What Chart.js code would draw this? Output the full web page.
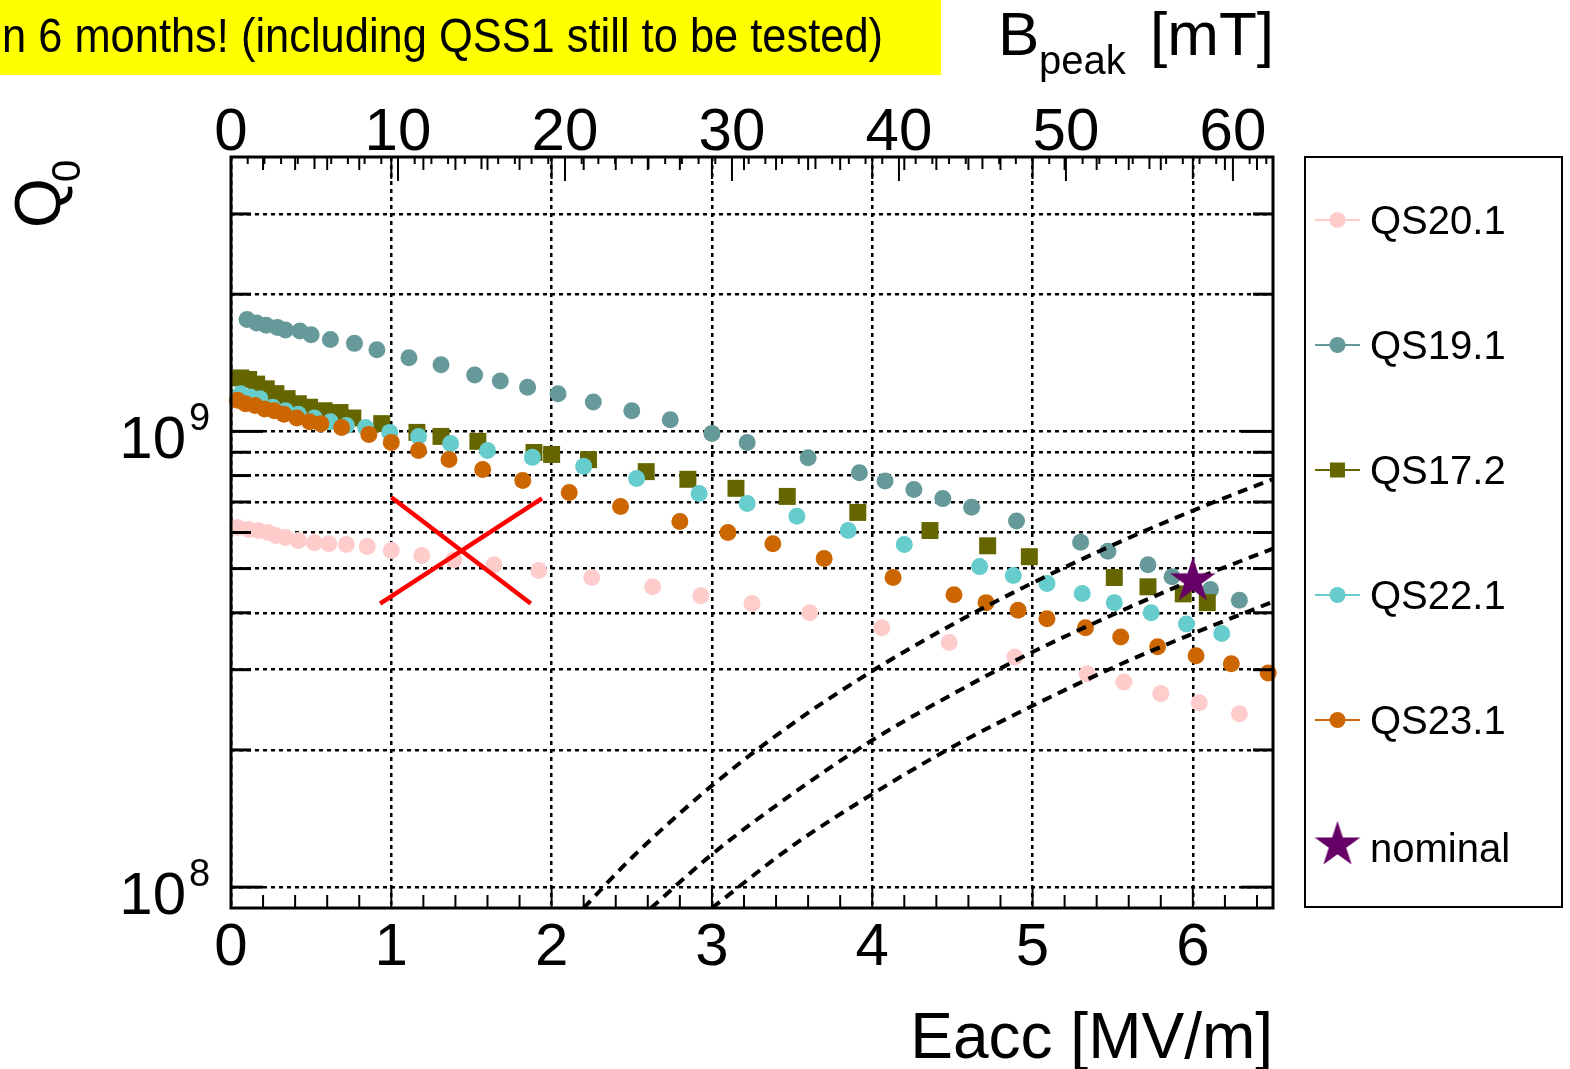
<!DOCTYPE html>
<html><head><meta charset="utf-8">
<script src="https://cdn.jsdelivr.net/npm/chart.js@4/dist/chart.umd.min.js"></script>
<style>html,body{margin:0;padding:0;background:#fff;overflow:hidden}</style>
</head><body>
<canvas id="c" width="1570" height="1069"></canvas>
<script>
// ---------------- data ----------------
const seriesNames = ['QS20.1','QS19.1','QS17.2','QS22.1','QS23.1'];
const seriesColors = ['#FFCCCC','#669999','#666600','#66CCCC','#CC6600'];

const qs20_1_E = [0.04,0.11,0.17,0.23,0.28,0.34,0.42,0.52,0.61,0.72,0.85,1.00,1.19,1.39,1.64,1.92,2.25,2.63,2.93,3.25,3.61,4.06,4.48,4.89,5.34,5.57,5.80,6.04,6.29];
const qs20_1_Q = [6.15e8,6.09e8,6.06e8,6.00e8,5.91e8,5.85e8,5.76e8,5.70e8,5.67e8,5.65e8,5.59e8,5.48e8,5.34e8,5.23e8,5.10e8,4.95e8,4.78e8,4.56e8,4.36e8,4.19e8,4.00e8,3.71e8,3.44e8,3.20e8,2.94e8,2.82e8,2.66e8,2.54e8,2.40e8];

const qs19_1_E = [0.10,0.16,0.22,0.29,0.34,0.43,0.50,0.62,0.77,0.91,1.11,1.31,1.52,1.68,1.85,2.04,2.26,2.50,2.74,3.00,3.22,3.60,3.92,4.08,4.26,4.44,4.62,4.90,5.30,5.47,5.72,5.87,6.11,6.29];
const qs19_1_Q = [1.76e9,1.73e9,1.71e9,1.69e9,1.67e9,1.66e9,1.63e9,1.59e9,1.56e9,1.51e9,1.45e9,1.40e9,1.33e9,1.29e9,1.25e9,1.21e9,1.16e9,1.11e9,1.06e9,9.9e8,9.45e8,8.75e8,8.11e8,7.78e8,7.46e8,7.12e8,6.82e8,6.36e8,5.71e8,5.46e8,5.10e8,4.80e8,4.50e8,4.26e8];

const qs17_2_E = [0.06,0.11,0.16,0.22,0.28,0.35,0.42,0.49,0.58,0.68,0.76,0.94,1.16,1.31,1.54,1.89,2.00,2.23,2.59,2.85,3.15,3.47,3.91,4.36,4.72,4.98,5.51,5.72,5.94,6.09];
const qs17_2_Q = [1.31e9,1.30e9,1.27e9,1.24e9,1.21e9,1.18e9,1.15e9,1.13e9,1.11e9,1.10e9,1.07e9,1.04e9,9.95e8,9.75e8,9.51e8,8.99e8,8.90e8,8.67e8,8.16e8,7.85e8,7.50e8,7.20e8,6.64e8,6.06e8,5.61e8,5.31e8,4.78e8,4.56e8,4.40e8,4.21e8];

const qs22_1_E = [0.06,0.12,0.18,0.26,0.34,0.42,0.52,0.62,0.72,0.84,0.99,1.17,1.37,1.60,1.88,2.20,2.53,2.92,3.22,3.53,3.85,4.20,4.67,4.88,5.09,5.31,5.51,5.74,5.96,6.18];
const qs22_1_Q = [1.21e9,1.19e9,1.18e9,1.13e9,1.11e9,1.09e9,1.07e9,1.05e9,1.03e9,1.02e9,9.95e8,9.75e8,9.41e8,9.08e8,8.77e8,8.38e8,7.88e8,7.31e8,6.95e8,6.51e8,6.06e8,5.65e8,5.05e8,4.83e8,4.64e8,4.41e8,4.21e8,4.00e8,3.78e8,3.60e8];

const qs23_1_E = [0.04,0.09,0.15,0.21,0.27,0.33,0.41,0.49,0.56,0.69,0.86,1.00,1.17,1.36,1.57,1.82,2.11,2.43,2.80,3.10,3.38,3.70,4.13,4.51,4.71,4.91,5.09,5.33,5.55,5.78,6.02,6.24,6.47];
const qs23_1_Q = [1.17e9,1.15e9,1.14e9,1.12e9,1.11e9,1.09e9,1.07e9,1.05e9,1.04e9,1.02e9,9.85e8,9.46e8,9.08e8,8.68e8,8.25e8,7.80e8,7.34e8,6.84e8,6.34e8,6.00e8,5.67e8,5.26e8,4.78e8,4.38e8,4.21e8,4.05e8,3.88e8,3.71e8,3.54e8,3.37e8,3.22e8,3.09e8,2.95e8];

const nominal_E = [6.0];
const nominal_Q = [4.70e8];

// dashed constant-power curves
const curve1_E = [2.2,2.5,3.0,3.5,4.0,4.5,5.0,5.5,6.0,6.5];
const curve1_Q = [9.0e7,1.16e8,1.67e8,2.28e8,2.98e8,3.77e8,4.65e8,5.63e8,6.70e8,7.86e8];
const curve2_E = [2.62,3.0,3.5,4.0,4.5,5.0,5.5,6.0,6.5];
const curve2_Q = [9.0e7,1.18e8,1.60e8,2.10e8,2.65e8,3.28e8,3.96e8,4.72e8,5.53e8];
const curve3_E = [3.0,3.5,4.0,4.5,5.0,5.5,6.0,6.5];
const curve3_Q = [9.0e7,1.23e8,1.60e8,2.03e8,2.50e8,3.03e8,3.60e8,4.23e8];

// red cross annotation
const crossA_E = [1.00,1.87];
const crossA_Q = [7.17e8,4.19e8];
const crossB_E = [0.93,1.94];
const crossB_Q = [4.19e8,7.13e8];

// axes
const eaccTicks = [0,1,2,3,4,5,6];
const bpeakTicks = [0,10,20,30,40,50,60];
const qGridValues = [1e8,2e8,3e8,4e8,5e8,6e8,7e8,8e8,9e8,1e9,2e9,3e9];
const qLabelValues = [1e8,1e9];
const eaccMin = 0, eaccMax = 6.5;
const bpeakMax = 62.4;
const qMin = 9e7, qMax = 4e9;

const bannerText = 'n 6 months! (including QSS1 still to be tested)';
const xTitle = 'Eacc [MV/m]';

// ---------------- helpers ----------------
const pts = (E,Q) => E.map((e,i)=>({x:e,y:Q[i]}));
const FONT = '"Liberation Sans", Arial, sans-serif';

function makeStar(R, color){
  const s = Math.ceil(R*2+4);
  const c = document.createElement('canvas'); c.width = s; c.height = s;
  const g = c.getContext('2d'); g.fillStyle = color;
  const cx = s/2, cy = s/2, r = R*0.382;
  g.beginPath();
  for (let k=0;k<10;k++){
    const rr = k%2===0 ? R : r;
    const a = -Math.PI/2 + k*Math.PI/5;
    const px = cx + rr*Math.cos(a), py = cy + rr*Math.sin(a);
    k===0 ? g.moveTo(px,py) : g.lineTo(px,py);
  }
  g.closePath(); g.fill();
  return c;
}
const starImg = makeStar(24,'#660066');

const pointDS = (label, E, Q, color, style, radius, order) => ({
  label, data: pts(E,Q), backgroundColor: color, borderColor: color,
  pointStyle: style, pointRadius: radius, pointBorderWidth: 0,
  showLine: false, order, clip: false
});
const curveDS = (E,Q) => ({
  label: '_curve', data: pts(E,Q), showLine: true, borderColor: '#000', borderWidth: 4,
  borderDash: [10,7], pointRadius: 0, cubicInterpolationMode: 'monotone', fill: false, order: 1
});
const crossDS = (E,Q) => ({
  label: '_cross', data: pts(E,Q), showLine: true, borderColor: '#FF0000', borderWidth: 4.5,
  pointRadius: 0, fill: false, order: 0
});

const datasets = [
  pointDS(seriesNames[0], qs20_1_E, qs20_1_Q, seriesColors[0], 'circle', 8.5, 7),
  pointDS(seriesNames[1], qs19_1_E, qs19_1_Q, seriesColors[1], 'circle', 8.5, 6),
  pointDS(seriesNames[2], qs17_2_E, qs17_2_Q, seriesColors[2], 'rect', 12, 5),
  pointDS(seriesNames[3], qs22_1_E, qs22_1_Q, seriesColors[3], 'circle', 8.5, 4),
  pointDS(seriesNames[4], qs23_1_E, qs23_1_Q, seriesColors[4], 'circle', 8.5, 3),
  curveDS(curve1_E, curve1_Q),
  curveDS(curve2_E, curve2_Q),
  curveDS(curve3_E, curve3_Q),
  pointDS('nominal', nominal_E, nominal_Q, '#660066', starImg, 24, 0.5),
  crossDS(crossA_E, crossA_Q),
  crossDS(crossB_E, crossB_Q)
];

function line(ctx,x1,y1,x2,y2){ctx.beginPath();ctx.moveTo(x1,y1);ctx.lineTo(x2,y2);ctx.stroke();}

const deco = {
  id: 'deco',
  beforeDraw(chart){
    const ctx = chart.ctx;
    ctx.save();
    ctx.fillStyle = '#fff'; ctx.fillRect(0,0,chart.width,chart.height);
    ctx.fillStyle = '#FFFF00'; ctx.fillRect(0,0,941,75);
    ctx.fillStyle = '#000';
    ctx.font = '48px ' + FONT;
    const w = ctx.measureText(bannerText).width;
    ctx.translate(2,52); ctx.scale(881/w,1);
    ctx.textAlign='left'; ctx.textBaseline='alphabetic';
    ctx.fillText(bannerText,0,0);
    ctx.restore();
  },
  afterDatasetsDraw(chart){
    const ctx = chart.ctx, a = chart.chartArea;
    const xs = chart.scales.x, x2 = chart.scales.x2, ys = chart.scales.y;
    ctx.save();
    ctx.strokeStyle = '#000'; ctx.setLineDash([]);
    qGridValues.forEach(v=>{
      const py = ys.getPixelForValue(v);
      const dec = Math.abs(Math.log10(v)-Math.round(Math.log10(v)))<1e-9;
      const len = dec?32:20;
      ctx.lineWidth = 3;
      line(ctx,a.left,py,a.left+len,py);
      line(ctx,a.right,py,a.right-len,py);
    });
    ctx.lineWidth = 2;
    for (let i=0;i*0.2<=eaccMax+1e-9;i++){
      const v = i*0.2, px = xs.getPixelForValue(v);
      const len = (i%5===0)?22:13;
      line(ctx,px,a.bottom,px,a.bottom-len);
      line(ctx,px,a.top,px,a.top+len);
    }
    for (let b=0;b<=bpeakMax;b++){
      const px = x2.getPixelForValue(b);
      const len = b%10===0?24:(b%5===0?12:7);
      line(ctx,px,a.top,px,a.top+len);
    }
    ctx.lineWidth = 3;
    ctx.strokeRect(a.left,a.top,a.right-a.left,a.bottom-a.top);
    ctx.restore();
  },
  afterDraw(chart){
    const ctx = chart.ctx, a = chart.chartArea;
    const xs = chart.scales.x, x2 = chart.scales.x2, ys = chart.scales.y;
    ctx.save();
    ctx.fillStyle = '#000'; ctx.textBaseline = 'alphabetic';
    // tick labels
    ctx.font = '60px ' + FONT; ctx.textAlign = 'center';
    eaccTicks.forEach(v=> ctx.fillText(String(v), xs.getPixelForValue(v), 965));
    bpeakTicks.forEach(v=> ctx.fillText(String(v), x2.getPixelForValue(v), 150));
    qLabelValues.forEach(v=>{
      const py = ys.getPixelForValue(v);
      ctx.font = '60px ' + FONT; ctx.textAlign = 'right';
      ctx.fillText('10', 186, py+27);
      ctx.font = '38px ' + FONT; ctx.textAlign = 'left';
      ctx.fillText(String(Math.round(Math.log10(v))), 189, py-1);
    });
    // x title
    ctx.font = '64px ' + FONT; ctx.textAlign = 'right';
    ctx.fillText(xTitle, a.right, 1058);
    // top title B_peak [mT]
    ctx.textAlign = 'left';
    ctx.font = '62px ' + FONT; ctx.fillText('B', 998, 55);
    ctx.font = '40px ' + FONT; ctx.fillText('peak', 1039, 74);
    ctx.font = '62px ' + FONT; ctx.textAlign='right'; ctx.fillText('[mT]', 1274, 55);
    // y title Q_0
    ctx.save();
    ctx.translate(60,228); ctx.rotate(-Math.PI/2);
    ctx.textAlign='left';
    ctx.font = '64px ' + FONT; ctx.fillText('Q',0,0);
    ctx.font = '40px ' + FONT; ctx.fillText('0',46,20);
    ctx.restore();
    // legend
    ctx.lineWidth = 2; ctx.strokeStyle = '#000';
    ctx.strokeRect(1305,157,257,750);
    const legendIdx = [0,1,2,3,4,8];
    const legendY = [220,345,470,595,720,845];
    legendIdx.forEach((di,k)=>{
      const ds = chart.data.datasets[di], y = legendY[k];
      if (ds.label !== 'nominal'){
        ctx.strokeStyle = ds.borderColor; ctx.lineWidth = 2;
        line(ctx,1315,y,1360,y);
        ctx.fillStyle = ds.backgroundColor;
        if (ds.pointStyle === 'rect') ctx.fillRect(1330,y-7.5,15,15);
        else { ctx.beginPath(); ctx.arc(1337.5,y,8,0,Math.PI*2); ctx.fill(); }
      } else {
        ctx.drawImage(starImg, 1337.5-starImg.width/2, y-starImg.height/2);
      }
      ctx.fillStyle = '#000'; ctx.font = '40px ' + FONT; ctx.textAlign='left';
      ctx.fillText(ds.label, 1370, ds.label==='nominal' ? y+17 : y+14);
    });
    ctx.restore();
  }
};

const gridStyle = {color:'#000', lineWidth:2.5, drawTicks:false};
new Chart(document.getElementById('c'), {
  type: 'scatter',
  data: { datasets },
  options: {
    responsive: false, animation: false, devicePixelRatio: 1,
    layout: { padding: {left:0, top:0, right:297, bottom:0} },
    plugins: { legend:{display:false}, tooltip:{enabled:false} },
    scales: {
      x: {
        type:'linear', position:'bottom', min:eaccMin, max:eaccMax,
        afterBuildTicks: s => { s.ticks = eaccTicks.map(v=>({value:v})); },
        afterFit: s => { s.height = 161; },
        ticks:{display:false}, grid: gridStyle, border:{display:false, dash:[4,4]}
      },
      x2: {
        type:'linear', position:'top', min:0, max:bpeakMax,
        afterBuildTicks: s => { s.ticks = bpeakTicks.map(v=>({value:v})); },
        afterFit: s => { s.height = 157; },
        ticks:{display:false}, grid:{display:false}, border:{display:false}
      },
      y: {
        type:'logarithmic', position:'left', min:qMin, max:qMax,
        afterBuildTicks: s => { s.ticks = qGridValues.map(v=>({value:v})); },
        afterFit: s => { s.width = 231; },
        ticks:{display:false}, grid: gridStyle, border:{display:false, dash:[4,4]}
      }
    }
  },
  plugins: [deco]
});
</script>
</body></html>
